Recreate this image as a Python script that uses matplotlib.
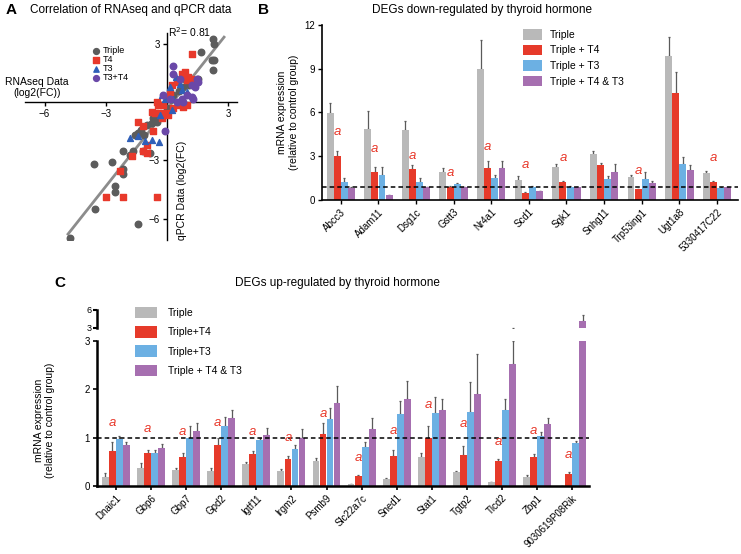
""" Three-panel figure: RNAseq vs qPCR correlation and qPCR bar charts. """
import numpy as np
import matplotlib.pyplot as plt

plt.rcParams['font.family'] = ['Liberation Sans', 'DejaVu Sans']

# ---- panel A: RNAseq vs qPCR log2 fold changes
triple_x = [2.27, 2.3, 1.67, 2.3, 2.2, 2.27, 0.9, 1.54, 1.1, 0.8, 0.6, -0.67, -0.75, -1.0,
            -1.25, -1.4, -1.55, -1.1, -0.5, -0.4, -0.85, -1.65, -1.8, -2.14, -1.15, -3.6,
            -2.7, -2.14, -2.14, -2.55, -2.55, -3.53, -1.4, -4.75, 0.3, 0.0]
triple_y = [3.27, 3.0, 2.59, 2.2, 2.2, 1.65, 1.22, 1.22, 0.9, 0.8, 0.6, -0.82, -1.07, -1.15,
            -1.4, -1.6, -1.7, -1.7, -1.0, -0.75, -2.6, -2.5, -2.7, -2.5, -2.5, -3.2,
            -3.1, -3.45, -3.7, -4.3, -4.64, -5.5, -6.26, -7.0, 0.4, -0.3]
t4_x = [1.21, 0.88, 0.72, 1.05, 0.97, 1.2, 0.47, 0.23, 0.15, 0.0, -0.18, -0.43, -0.5, 0.31,
        0.0, -0.34, 0.07, 0.64, 0.8, 0.97, -0.25, -0.6, -0.75, -1.4, -1.16, -0.67, -1.0,
        -1.16, -1.0, -1.73, -2.3, -2.99, -2.14, -0.51]
t4_y = [2.5, 1.56, 1.48, 1.3, 1.14, 1.22, 1.05, 0.88, 0.46, 0.2, -0.14, -0.14, 0.03, -0.31,
        -0.56, -0.56, -0.65, -0.14, -0.22, -0.14, -0.82, -0.56, -0.48, -1.0, -1.24, -1.5,
        -2.18, -2.52, -2.6, -2.77, -3.54, -4.9, -4.86, -4.9]
t3_x = [0.42, 0.15, -0.26, -0.1, 0.31, 0.64, 0.72, 0.97, 0.23, -1.81, -1.4, -0.75, -0.39,
        -1.08, -0.34]
t3_y = [1.31, 0.8, 0.37, 0.2, 0.2, 0.97, 0.63, 0.54, -0.39, -1.84, -1.75, -1.92, -2.04,
        -2.0, -0.65]
t3t4_x = [0.31, 0.31, 0.64, 1.45, 1.54, 1.21, 1.37, 0.97, 1.21, 1.29, 0.72, 0.8, -0.18,
          -0.1, 0.15, 0.47]
t3t4_y = [1.9, 1.48, 1.22, 1.22, 1.05, 0.88, 0.8, 0.37, 0.29, 0.2, 0.2, 0.03, 0.37, -1.5,
          0.2, 0.03]
fit_x = [-4.85, 2.8]
fit_y = [-6.8, 3.37]

# ---- panel B: genes down-regulated by thyroid hormone
down_genes = ['Abcc3', 'Adam11', 'Dsg1c', 'Gstt3', 'Nr4a1', 'Scd1', 'Sgk1', 'Snhg11',
              'Trp53inp1', 'Ugt1a8', '5330417C22']
down_triple = [5.98, 4.9, 4.8, 1.94, 9.0, 1.37, 2.28, 3.13, 1.6, 9.86, 1.83]
down_t4 = [3.01, 1.9, 2.12, 0.91, 2.17, 0.47, 1.21, 2.4, 0.75, 7.35, 1.26]
down_t3 = [1.26, 1.71, 1.26, 1.1, 1.48, 0.91, 0.91, 1.44, 1.42, 2.44, 0.85]
down_t4t3 = [0.85, 0.32, 0.87, 0.87, 2.17, 0.64, 0.87, 1.9, 1.14, 2.05, 0.87]
down_triple_err = [0.7, 1.2, 0.63, 0.26, 2.0, 0.27, 0.22, 0.25, 0.1, 1.34, 0.17]
down_t4_err = [0.37, 0.38, 0.28, 0.05, 0.53, 0.05, 0.06, 0.16, 0.0, 1.39, 0.05]
down_t3_err = [0.27, 0.57, 0.27, 0.09, 0.22, 0.08, 0.05, 0.2, 0.52, 0.53, 0.07]
down_t4t3_err = [0.05, 0.0, 0.0, 0.0, 0.53, 0.0, 0.02, 0.57, 0.18, 0.35, 0.04]
down_a = [4.68, 3.5, 3.0, 1.85, 3.6, 2.4, 2.85, None, 2.0, None, 2.9]

# ---- panel C: genes up-regulated by thyroid hormone
up_genes = ['Dnaic1', 'Gbp6', 'Gbp7', 'Gpd2', 'Igtf11', 'Irgm2', 'Psmb9', 'Slc22a7c',
            'Sned1', 'Stat1', 'Tgtp2', 'Tlcd2', 'Zbp1', '9030619P08Rik']
up_triple = [0.19, 0.38, 0.33, 0.32, 0.45, 0.31, 0.51, 0.04, 0.14, 0.61, 0.30, 0.09, 0.19, 0.01]
up_t4 = [0.73, 0.68, 0.61, 0.85, 0.66, 0.56, 1.08, 0.21, 0.63, 0.99, 0.65, 0.51, 0.60, 0.24]
up_t3 = [0.97, 0.69, 0.99, 1.25, 0.96, 0.76, 1.39, 0.81, 1.5, 1.51, 1.53, 1.58, 1.03, 0.89]
up_t4t3 = [0.85, 0.78, 1.13, 1.4, 1.06, 0.99, 1.72, 1.18, 1.81, 1.58, 1.9, 2.53, 1.29, 4.2]
up_triple_err = [0.07, 0.09, 0.04, 0.05, 0.04, 0.04, 0.08, 0.0, 0.02, 0.08, 0.02, 0.0, 0.04, 0.0]
up_t4_err = [0.19, 0.06, 0.08, 0.14, 0.06, 0.07, 0.23, 0.02, 0.11, 0.26, 0.17, 0.05, 0.07, 0.04]
up_t3_err = [0.07, 0.06, 0.25, 0.17, 0.03, 0.09, 0.23, 0.11, 0.26, 0.34, 0.62, 0.23, 0.09, 0.05]
up_t4t3_err = [0.07, 0.09, 0.18, 0.17, 0.14, 0.19, 0.35, 0.22, 0.36, 0.23, 0.83, 0.47, 0.12, 1.0]
up_a = [1.3, 1.17, 1.12, 1.3, 1.12, 1.0, 1.5, 0.59, 1.13, 1.67, 1.28, 0.92, 1.13, 0.65]

BAR_COLORS = ['#b9b9b9', '#e63a2a', '#6cb0e3', '#a66fb0']
ERR_COLOR = '#5a5a5a'
RED = '#e8392b'


def grouped_bars(ax, means, errs, labels, width):
    """ Draw four bars per gene with upward error bars. """
    x = np.arange(len(means[0]))
    for k, (m, e, c, lab) in enumerate(zip(means, errs, BAR_COLORS, labels)):
        pos = x + (k - 1.5) * width
        ax.bar(pos, m, width * 0.97, color=c, label=lab, zorder=2)
        ax.errorbar(pos, m, yerr=[np.zeros(len(m)), e], fmt='none', ecolor=ERR_COLOR,
                    elinewidth=0.9, capsize=1.0, capthick=0.9, zorder=1)
    return x


def mark_a(ax, x, heights, width):
    """ Red italic 'a' over the T4 bars. """
    for xi, h in zip(x, heights):
        if h is not None:
            ax.text(xi - 0.5 * width, h, 'a', color=RED, fontsize=9.5, style='italic',
                    ha='center', va='center', zorder=4)


fig = plt.figure(figsize=(7.41, 5.54), dpi=100)

# ---------------- A
axa = fig.add_axes([0.0337, 0.567, 0.286, 0.374])
axa.scatter(triple_x, triple_y, s=22, marker='o', color='#5c5c5c', label='Triple', zorder=3)
axa.scatter(t4_x, t4_y, s=22, marker='s', color='#e8392b', label='T4', zorder=3)
axa.scatter(t3_x, t3_y, s=18, marker='^', color='#2f5fb8', label='T3', zorder=3)
axa.scatter(t3t4_x, t3t4_y, s=22, marker='o', color='#6a48a8', label='T3+T4', zorder=3)
axa.plot(fit_x, fit_y, color='#8c8c8c', lw=2, zorder=2)
axa.set_xlim(-6.96, 3.43)
axa.set_ylim(-7.1, 3.6)
for side in ('top', 'right'):
    axa.spines[side].set_visible(False)
axa.spines['left'].set_position(('data', 0))
axa.spines['bottom'].set_position(('data', 0))
for side in ('left', 'bottom'):
    axa.spines[side].set_linewidth(1.0)
axa.set_xticks([-6, -3, 3])
axa.set_yticks([-6, -3, 3])
axa.tick_params(labelsize=7, length=3, width=1, pad=2)
axa.text(0.05, 3.65, 'R$^2$= 0.81', fontsize=7.5, ha='left', va='center', clip_on=False)
axa.legend(loc='upper left', bbox_to_anchor=(0.117, 0.925), bbox_transform=fig.transFigure,
           frameon=False, fontsize=6.5, handletextpad=0.3, labelspacing=0.0,
           borderpad=0, handlelength=1.0, markerscale=0.9)
fig.text(0.05, 0.842, 'RNAseq Data\n(log2(FC))', fontsize=7.5, ha='center', va='center',
         linespacing=1.1)
fig.text(0.2456, 0.657, 'qPCR Data (log2(FC)', fontsize=7.5, rotation=90, ha='center',
         va='center')
fig.text(0.007, 0.982, 'A', fontsize=11, fontweight='bold', va='center')
fig.text(0.04, 0.982, 'Correlation of RNAseq and qPCR data', fontsize=8.5, va='center')

# ---------------- B
axb = fig.add_axes([0.4345, 0.639, 0.561, 0.316])
wb = 0.19
xb = grouped_bars(axb, [down_triple, down_t4, down_t3, down_t4t3],
                  [down_triple_err, down_t4_err, down_t3_err, down_t4t3_err],
                  ['Triple', 'Triple + T4', 'Triple + T3', 'Triple + T4 & T3'], wb)
mark_a(axb, xb, down_a, wb)
axb.axhline(0.9, color='black', ls=(0, (3, 2)), lw=1.1, zorder=3)
axb.set_xlim(-0.5, 10.55)
axb.set_ylim(0, 12)
axb.set_yticks([0, 3, 6, 9, 12])
axb.set_xticks(xb)
axb.set_xticklabels(down_genes, rotation=45, ha='right', rotation_mode='anchor')
axb.tick_params(labelsize=7, length=3, width=1, pad=2)
for side in ('top', 'right'):
    axb.spines[side].set_visible(False)
for side in ('left', 'bottom'):
    axb.spines[side].set_linewidth(1.2)
axb.set_ylabel('mRNA expression\n(relative to control group)', fontsize=7.5, labelpad=4)
axb.legend(loc='upper left', bbox_to_anchor=(0.699, 0.957), bbox_transform=fig.transFigure,
           frameon=False, fontsize=7.5, handlelength=1.8, handleheight=1.2,
           labelspacing=0.45, handletextpad=0.75, borderpad=0)
fig.text(0.348, 0.982, 'B', fontsize=11, fontweight='bold', va='center')
fig.text(0.65, 0.982, 'DEGs down-regulated by thyroid hormone', fontsize=8.5,
         ha='center', va='center')

# ---------------- C
wc = 0.2
c_means = [up_triple, up_t4, up_t3, up_t4t3]
c_errs = [up_triple_err, up_t4_err, up_t3_err, up_t4t3_err]
c_labels = ['Triple', 'Triple+T4', 'Triple+T3', 'Triple + T4 & T3']
axc = fig.add_axes([0.1309, 0.1227, 0.664, 0.2617])
axc_top = fig.add_axes([0.1309, 0.408, 0.664, 0.0325], sharex=axc)
axc_top.patch.set_visible(False)
xc = grouped_bars(axc, c_means, c_errs, c_labels, wc)
grouped_bars(axc_top, c_means, c_errs, c_labels, wc)
mark_a(axc, xc, up_a, wc)
axc.axhline(1.0, color='black', ls=(0, (3, 2)), lw=1.1, zorder=3)
axc.set_xlim(-0.54, 13.48)
axc.set_ylim(0, 3)
axc.set_yticks([0, 1, 2, 3])
axc.set_xticks(xc)
axc.set_xticklabels(up_genes, rotation=45, ha='right', rotation_mode='anchor')
axc.tick_params(labelsize=7, length=3, width=1.2, pad=2)
for side in ('top', 'right'):
    axc.spines[side].set_visible(False)
for side in ('left', 'bottom'):
    axc.spines[side].set_linewidth(1.8)
axc.set_ylabel('mRNA expression\n(relative to control group)', fontsize=7.5, labelpad=3)
axc.yaxis.set_label_coords(-0.085, 0.45)
axc_top.set_ylim(3, 6)
axc_top.set_yticks([3, 6])
axc_top.tick_params(axis='y', labelsize=6.5, length=3, width=1.5, pad=1)
axc_top.tick_params(axis='x', bottom=False, labelbottom=False)
for side in ('top', 'right', 'bottom'):
    axc_top.spines[side].set_visible(False)
axc_top.spines['left'].set_linewidth(1.8)
handles, labels = axc.get_legend_handles_labels()
fig.legend(handles, labels, loc='upper left', bbox_to_anchor=(0.1755, 0.455),
           frameon=False, fontsize=7.5, handlelength=2.1, handleheight=1.3,
           labelspacing=0.75, handletextpad=1.0, borderpad=0)
fig.text(0.073, 0.49, 'C', fontsize=11, fontweight='bold', va='center')
fig.text(0.455, 0.49, 'DEGs up-regulated by thyroid hormone', fontsize=8.5,
         ha='center', va='center')

fig.savefig('out.png', dpi=100)
